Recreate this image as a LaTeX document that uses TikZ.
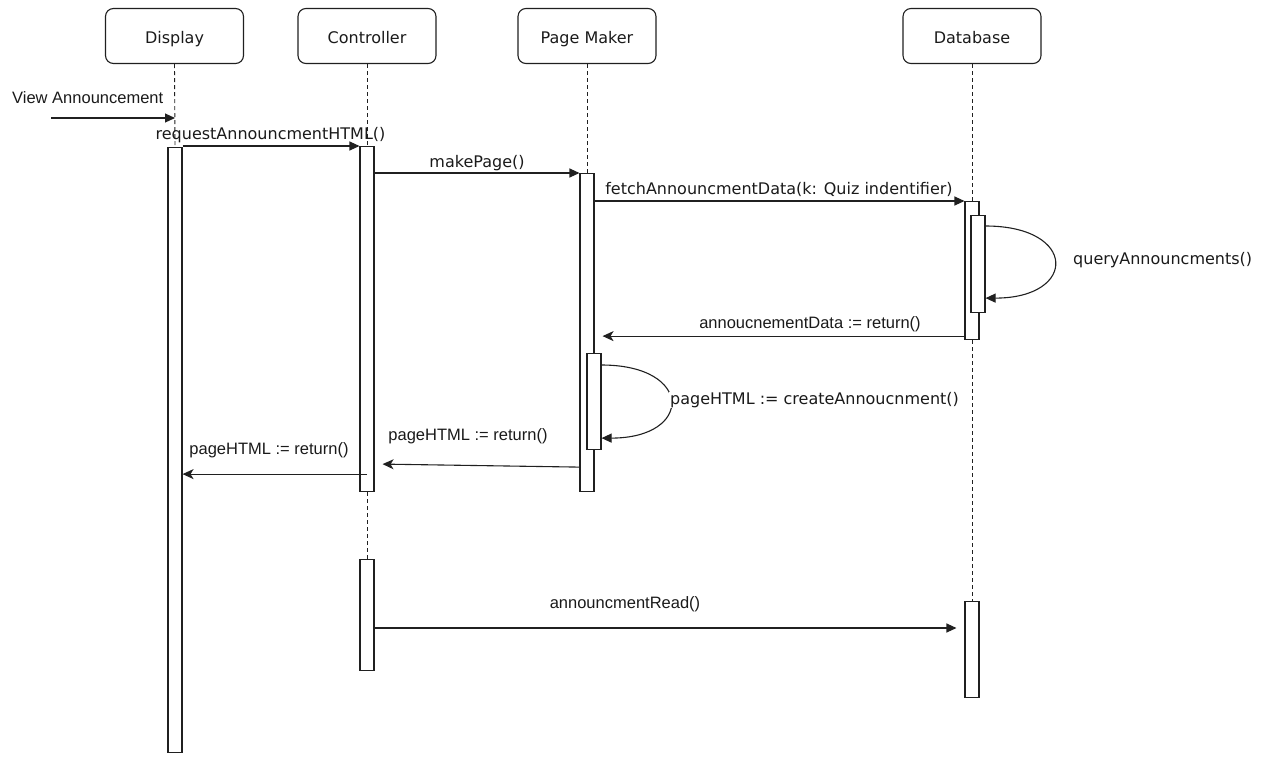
\documentclass[tikz,border=0pt]{standalone}
\usepackage{fontspec}
\setmainfont{DejaVu Sans}
\newfontfamily\narrowfont{Liberation Sans}
\usetikzlibrary{arrows.meta,calc}
\definecolor{linec}{HTML}{202020}
\definecolor{txt}{HTML}{1A1A1A}
\begin{document}
\begin{tikzpicture}[x=1pt,y=-1pt,
  actor/.style={draw=linec, rounded corners=8pt, line width=1.1pt, minimum width=138pt,
    minimum height=55pt, inner sep=0pt, text height=17pt, text depth=2pt,
    font=\fontsize{16}{19}\selectfont, text=txt},
  bar/.style={draw=linec, fill=white, line width=1.1pt, minimum width=14pt, inner sep=0pt, anchor=north},
  life/.style={draw=linec, line width=0.9pt, dash pattern=on 4pt off 3pt},
  call/.style={draw=linec, line width=1.1pt, -{Triangle[length=10pt,width=9pt]}},
  ret/.style={draw=linec, line width=1.1pt, -{Stealth[length=11pt,width=10pt,inset=3pt]}},
  lblw/.style={font=\fontsize{16}{19}\selectfont, text=txt, inner sep=0pt},
  lbln/.style={font=\narrowfont\fontsize{16.5}{19}\selectfont, text=txt, inner sep=0pt},
]
\useasboundingbox (0,0) rectangle (1268,756);

% participants
\node[actor] (disp) at (174.5,36) {Display};
\node[actor] (ctrl) at (367,36) {Controller};
\node[actor] (page) at (587,36) {Page Maker};
\node[actor] (db)   at (972,36) {Database};

% top edges of the activation bars
\coordinate (dAtop) at (175,147);
\coordinate (cAtop) at (367,146);
\coordinate (cBtop) at (367,559);
\coordinate (pAtop) at (587,173);
\coordinate (pBtop) at (594,353);
\coordinate (dbAtop) at (972,201);
\coordinate (dbBtop) at (978,215);
\coordinate (dbCtop) at (972,601);

% lifelines
\draw[life] (disp.south) -- (dAtop);
\draw[life] (ctrl.south) -- (cAtop);
\draw[life] (page.south) -- (pAtop);
\draw[life] (db.south) -- (dbAtop);

% activation bars
\node[bar, minimum height=605pt] (dA) at (dAtop) {};
\node[bar, minimum height=345pt] (cA) at (cAtop) {};
\draw[life] (cA.south) -- (cBtop);
\node[bar, minimum height=111pt] (cB) at (cBtop) {};
\node[bar, minimum height=318pt] (pA) at (pAtop) {};
\node[bar, minimum height=96pt]  (pB) at (pBtop) {};
\node[bar, minimum height=138pt] (dbA) at (dbAtop) {};
\draw[life] (dbA.south) -- (dbCtop);
\node[bar, minimum height=97pt]  (dbB) at (dbBtop) {};
\node[bar, minimum height=96pt]  (dbC) at (dbCtop) {};

% found message
\coordinate (vin) at (51,118);
\draw[call] (vin) -- (vin -| dA.north);
\node[lbln, anchor=west] (lview) at (12,98) {View Announcement};

% calls
\draw[call] (dA.east |- cA.north) -- (cA.north west);
\node[lblw] (lreq) at (270.5,135) {requestAnnouncmentHTML()};

\draw[call] (cA.east |- pA.north) -- (pA.north west);
\node[lblw] (lmake) at (477,163) {makePage()};

\draw[call] (pA.east |- dbA.north) -- (dbA.north west);
\node[lblw] (lfetch) at (779,189) {fetchAnnouncmentData(k: Quiz indentifier)};

\draw[call] ([yshift=-11pt]dbB.north east) .. controls +(92,0) and +(92,0) .. ([yshift=15pt]dbB.south east);
\node[lblw, anchor=west] (lquery) at (1073,260) {queryAnnouncments()};

% returns
\draw[ret] ($(dbA.south west)+(0,-4)$) -- ($(pA.east |- dbA.south)+(8,-4)$);
\node[lbln] (ldata) at (810,324) {annoucnementData := return()};

\draw[call] ([yshift=-12pt]pB.north east) .. controls +(92,0) and +(92,0) .. ([yshift=12pt]pB.south east);
\node[lblw, anchor=west, fill=white, inner xsep=1pt] (lcreate) at (669,400) {pageHTML := createAnnoucnment()};

\draw[ret] ($(pA.west |- pB.south)+(0,17)$) -- ($(cA.east |- pB.south)+(8,14)$);
\node[lbln] (lret1) at (468,436) {pageHTML := return()};

\draw[ret] ($(cA.north |- pB.south)+(0,24)$) -- ($(dA.east |- pB.south)+(0,24)$);
\node[lbln] (lret2) at (269,450) {pageHTML := return()};

\draw[call] ($(cB.north east)+(0,69)$) -- ($(dbC.north west)+(-8,27)$);
\node[lbln] (lread) at (625,604) {announcmentRead()};
\end{tikzpicture}
\end{document}
